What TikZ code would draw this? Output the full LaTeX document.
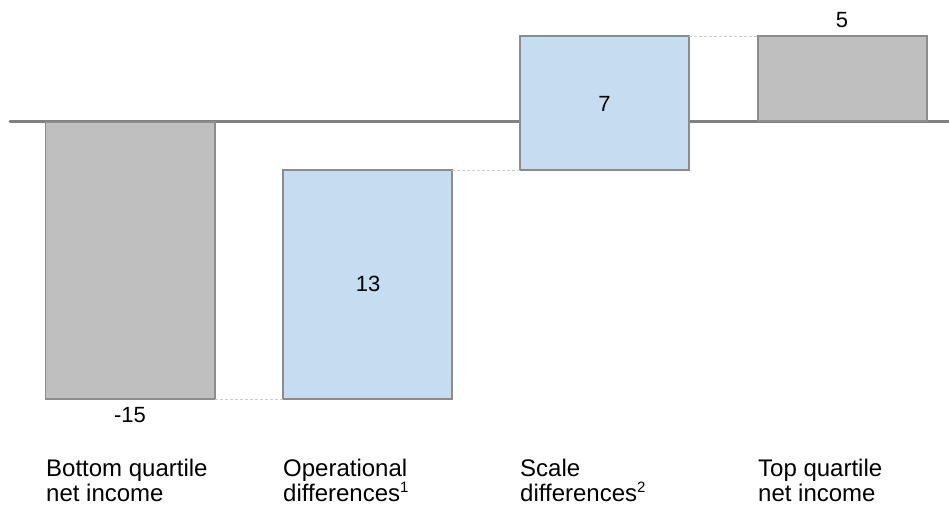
\documentclass[tikz,border=0pt]{standalone}
\usepackage{fontspec}
\setmainfont{Liberation Sans}
\definecolor{bargray}{HTML}{BFBFBF}
\definecolor{barblue}{HTML}{C6DDF1}
\definecolor{edgegray}{HTML}{8C8C8C}
\definecolor{axisgray}{HTML}{808080}
\definecolor{linkgray}{HTML}{CCCCCC}
\begin{document}
\begin{tikzpicture}[x=1pt,y=-1pt,
  bar/.style={draw=edgegray,line width=1.2pt},
  graybar/.style={bar,fill=bargray},
  bluebar/.style={bar,fill=barblue},
  link/.style={draw=linkgray,line width=0.8pt,dash pattern=on 3pt off 2pt},
  val/.style={font=\fontsize{22}{25}\selectfont,inner sep=0pt},
  cat/.style={font=\fontsize{24}{25}\selectfont,inner sep=0pt,anchor=base west,align=left}]
\useasboundingbox (0,0) rectangle (949,506);
% axis
\coordinate (axL) at (10,121);
\coordinate (axR) at (949,121);
\draw[axisgray,line width=3pt,line cap=round] (axL) -- (axR);
% bars
\path[graybar] (45.5,122) rectangle (215,399) node[pos=0.5] (b1) {};
\path[bluebar] (283,170) rectangle (452,399) node[pos=0.5] (b2) {};
\path[bluebar] (520,36) rectangle (689,170) node[pos=0.5] (b3) {};
\path[graybar] (758,36) rectangle (927,121) node[pos=0.5] (b4) {};
% connector coordinates
\coordinate (c1a) at (215,399); \coordinate (c1b) at (283,399);
\coordinate (c2a) at (452,170); \coordinate (c2b) at (520,170);
\coordinate (c3a) at (689,36);  \coordinate (c3b) at (758,36);
\draw[link] (c1a) -- (c1b);
\draw[link] (c2a) -- (c2b);
\draw[link] (c3a) -- (c3b);
% values
\node[val] (v1) at (130,415) {-15};
\node[val] (v2) at (368,284) {13};
\node[val] (v3) at (604.5,104) {7};
\node[val] (v4) at (842,20) {5};
% categories
\node[cat] (l1a) at (46,476) {Bottom quartile};
\node[cat] (l1b) at (46,501) {net income};
\node[cat] (l2a) at (283,476) {Operational};
\node[cat] (l2b) at (283,501) {differences{\fontsize{15}{15}\selectfont\raisebox{0.55em}{1}}};
\node[cat] (l3a) at (520,476) {Scale};
\node[cat] (l3b) at (520,501) {differences{\fontsize{15}{15}\selectfont\raisebox{0.55em}{2}}};
\node[cat] (l4a) at (758,476) {Top quartile};
\node[cat] (l4b) at (758,501) {net income};
\end{tikzpicture}
\end{document}
